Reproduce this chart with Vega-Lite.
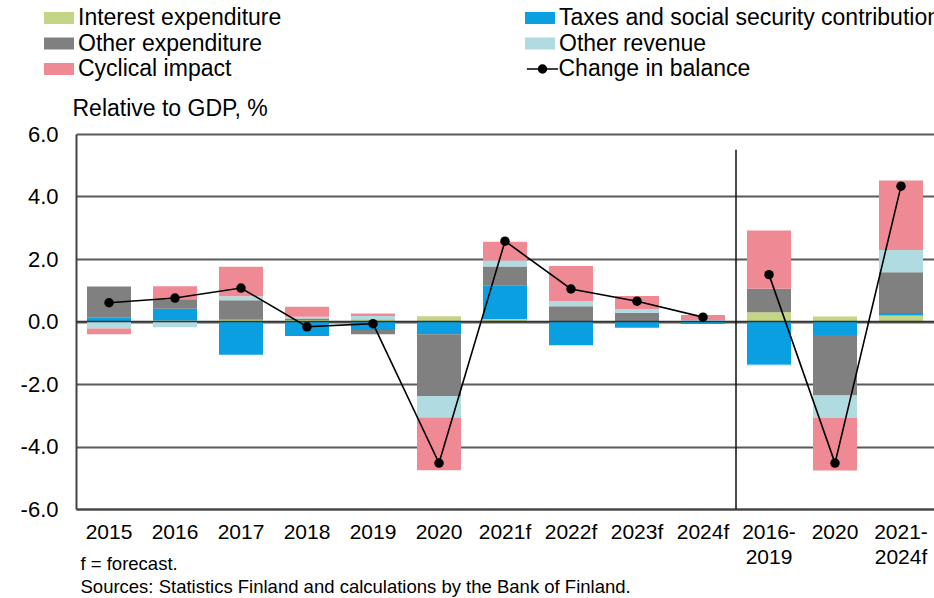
{
  "$schema": "https://vega.github.io/schema/vega-lite/v6.json",
  "width": 858,
  "height": 375,
  "autosize": {"type": "none"},
  "padding": {"left": 76, "top": 134, "right": 0, "bottom": 89},
  "background": "white",
  "config": {
    "font": "Liberation Sans",
    "view": {"stroke": null},
    "legend": {"padding": 0}
  },
  "data": {
    "values": [
      {"cat": "2015", "grp": "a", "Interest expenditure": 0, "Taxes and social security contributions": 0.12, "Other expenditure": 1.0, "Other revenue": -0.22, "Cyclical impact": -0.19, "balance": 0.6},
      {"cat": "2016", "grp": "a", "Interest expenditure": 0.03, "Taxes and social security contributions": 0.38, "Other expenditure": 0.3, "Other revenue": -0.18, "Cyclical impact": 0.42, "balance": 0.75},
      {"cat": "2017", "grp": "a", "Interest expenditure": 0.06, "Taxes and social security contributions": -1.06, "Other expenditure": 0.62, "Other revenue": 0.13, "Cyclical impact": 0.94, "balance": 1.07},
      {"cat": "2018", "grp": "a", "Interest expenditure": 0.05, "Taxes and social security contributions": -0.46, "Other expenditure": 0.05, "Other revenue": 0.05, "Cyclical impact": 0.32, "balance": -0.17},
      {"cat": "2019", "grp": "a", "Interest expenditure": 0.08, "Taxes and social security contributions": -0.27, "Other expenditure": -0.14, "Other revenue": 0.1, "Cyclical impact": 0.08, "balance": -0.07},
      {"cat": "2020", "grp": "a", "Interest expenditure": 0.17, "Taxes and social security contributions": -0.41, "Other expenditure": -1.97, "Other revenue": -0.69, "Cyclical impact": -1.69, "balance": -4.53},
      {"cat": "2021f", "grp": "a", "Interest expenditure": 0.08, "Taxes and social security contributions": 1.08, "Other expenditure": 0.6, "Other revenue": 0.19, "Cyclical impact": 0.6, "balance": 2.57},
      {"cat": "2022f", "grp": "a", "Interest expenditure": 0.02, "Taxes and social security contributions": -0.76, "Other expenditure": 0.47, "Other revenue": 0.16, "Cyclical impact": 1.13, "balance": 1.04},
      {"cat": "2023f", "grp": "a", "Interest expenditure": 0.01, "Taxes and social security contributions": -0.2, "Other expenditure": 0.27, "Other revenue": 0.12, "Cyclical impact": 0.42, "balance": 0.65},
      {"cat": "2024f", "grp": "a", "Interest expenditure": 0, "Taxes and social security contributions": -0.08, "Other expenditure": 0.02, "Other revenue": 0.02, "Cyclical impact": 0.17, "balance": 0.14},
      {"cat": "2016-2019", "grp": "b", "Interest expenditure": 0.3, "Taxes and social security contributions": -1.38, "Other expenditure": 0.75, "Other revenue": -0.03, "Cyclical impact": 1.86, "balance": 1.5},
      {"cat": "2020b", "grp": "b", "Interest expenditure": 0.16, "Taxes and social security contributions": -0.43, "Other expenditure": -1.94, "Other revenue": -0.72, "Cyclical impact": -1.68, "balance": -4.53},
      {"cat": "2021-2024f", "grp": "b", "Interest expenditure": 0.19, "Taxes and social security contributions": 0.08, "Other expenditure": 1.31, "Other revenue": 0.71, "Cyclical impact": 2.22, "balance": 4.33}
    ]
  },
  "layer": [
    {
      "transform": [
        {"fold": ["Interest expenditure", "Taxes and social security contributions", "Other expenditure", "Other revenue", "Cyclical impact"], "as": ["series", "value"]},
        {"calculate": "indexof(['Interest expenditure', 'Taxes and social security contributions', 'Other expenditure', 'Other revenue', 'Cyclical impact'], datum.series)", "as": "ord"}
      ],
      "mark": {"type": "bar", "width": {"band": 0.667}},
      "encoding": {
        "x": {
          "field": "cat", "type": "nominal",
          "scale": {"domain": ["2015", "2016", "2017", "2018", "2019", "2020", "2021f", "2022f", "2023f", "2024f", "2016-2019", "2020b", "2021-2024f"], "paddingInner": 0, "paddingOuter": 0},
          "axis": {
            "labelExpr": "datum.value == '2020b' ? '2020' : datum.value == '2016-2019' ? ['2016-', '2019'] : datum.value == '2021-2024f' ? ['2021-', '2024f'] : datum.value",
            "labelAngle": 0, "labelFontSize": 21, "labelColor": "#000", "labelPadding": 12, "labelLineHeight": 25, "labelOverlap": false,
            "ticks": false, "grid": false, "domainColor": "#444", "domainWidth": 2,
            "title": ["f = forecast.", "Sources: Statistics Finland and calculations by the Bank of Finland."],
            "titleFontSize": 18.5, "titleFontWeight": "normal", "titleColor": "#000", "titleAlign": "left", "titleAnchor": "start",
            "titleBaseline": "alphabetic", "titleX": 4, "titleY": 60, "titleLineHeight": 23
          }
        },
        "y": {
          "field": "value", "type": "quantitative", "stack": "zero", "title": "Relative to GDP, %",
          "scale": {"domain": [-6, 6], "nice": false},
          "axis": {
            "values": [-6, -4, -2, 0, 2, 4, 6],
            "labelExpr": "replace(format(datum.value, '.1f'), '\u2212', '-')",
            "labelFontSize": 22, "labelColor": "#000", "labelPadding": 18, "ticks": false,
            "gridColor": "#5a5a5a", "gridWidth": 2, "domainColor": "#444", "domainWidth": 2,
            "title": "Relative to GDP, %", "titleAngle": 0, "titleAlign": "left", "titleBaseline": "alphabetic",
            "titleX": -4, "titleY": -19, "titleFontSize": 23, "titleFontWeight": "normal", "titleColor": "#000"
          }
        },
        "color": {
          "field": "series", "type": "nominal",
          "scale": {
            "domain": ["Interest expenditure", "Other expenditure", "Cyclical impact", "Taxes and social security contributions", "Other revenue"],
            "range": ["#c4d585", "#808080", "#ef8a94", "#0a9fe0", "#b0dbe0"]
          },
          "legend": {
            "title": null, "orient": "none", "legendX": -29, "legendY": -128, "columns": 2, "columnPadding": 243, "rowPadding": 1.5,
            "symbolType": "M-1.25,-0.5H1.25V0.5H-1.25Z", "symbolSize": 576, "symbolStrokeWidth": 0, "symbolOpacity": 1,
            "labelFontSize": 23, "labelLimit": 1000, "labelOffset": 7, "labelColor": "#000"
          }
        },
        "order": {"field": "ord", "type": "quantitative"}
      }
    },
    {
      "data": {"values": [{"z": 0}]},
      "mark": {"type": "rule", "color": "#333", "strokeWidth": 1.5},
      "encoding": {"y": {"field": "z", "type": "quantitative", "title": "Relative to GDP, %"}}
    },
    {
      "data": {"values": [{"cat": "2016-2019", "top": 5.5, "bottom": -6}]},
      "mark": {"type": "rule", "color": "#111", "strokeWidth": 1.5},
      "encoding": {
        "x": {"field": "cat", "type": "nominal", "bandPosition": 0},
        "y": {"field": "top", "type": "quantitative", "title": "Relative to GDP, %"},
        "y2": {"field": "bottom"}
      }
    },
    {
      "mark": {"type": "line", "strokeWidth": 1.6},
      "encoding": {
        "x": {"field": "cat", "type": "nominal"},
        "y": {"field": "balance", "type": "quantitative", "title": "Relative to GDP, %"},
        "detail": {"field": "grp", "type": "nominal"},
        "stroke": {
          "datum": "Change in balance", "type": "nominal",
          "scale": {"range": ["#000000"]},
          "legend": {
            "title": null, "orient": "none", "legendX": 453.5, "legendY": -78,
            "symbolType": "M-1.3,0H1.3M-0.33,0A0.33,0.33 0 1 1 0.33,0A0.33,0.33 0 1 1 -0.33,0Z",
            "symbolSize": 576, "symbolFillColor": "#000", "symbolStrokeColor": "#000", "symbolStrokeWidth": 1.5,
            "labelFontSize": 23, "labelOffset": 3, "labelColor": "#000", "labelLimit": 1000
          }
        }
      }
    },
    {
      "mark": {"type": "point", "filled": true, "color": "#000", "size": 90, "opacity": 1},
      "encoding": {
        "x": {"field": "cat", "type": "nominal"},
        "y": {"field": "balance", "type": "quantitative", "title": "Relative to GDP, %"}
      }
    }
  ]
}
